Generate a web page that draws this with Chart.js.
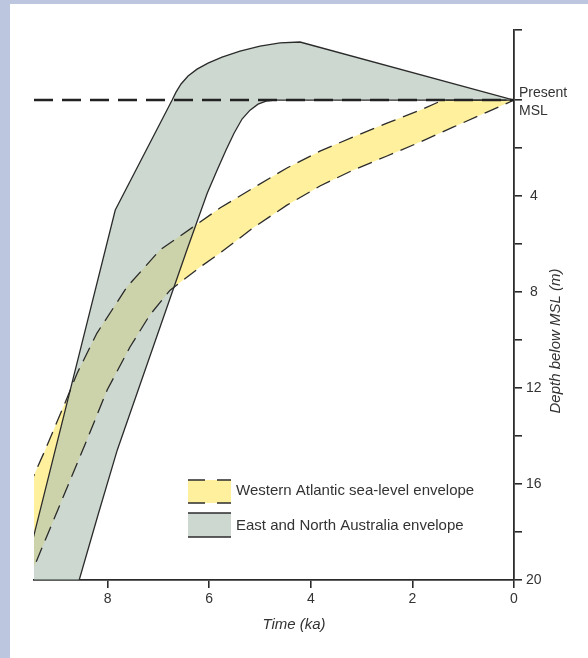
<!DOCTYPE html>
<html>
<head>
<meta charset="utf-8">
<script src="https://cdn.jsdelivr.net/npm/chart.js@4"></script>
<style>
  html, body { margin: 0; padding: 0; }
  body { width: 588px; height: 658px; background: #bcc7df; position: relative; overflow: hidden; }
  #panel { position: absolute; left: 10px; top: 4px; width: 578px; height: 654px; background: #fff; }
</style>
</head>
<body>
<div id="panel"><canvas id="seaLevel" width="578" height="654"></canvas></div>
<script>
// Ages in ka before present, depths in m below present MSL
const ausUpperAge   = [9.92, 7.85, 6.73, 6.654, 6.555, 6.417, 6.24, 6.024, 5.748, 5.394, 5.0, 4.606, 4.213, 0];
const ausUpperDepth = [22.1, 4.58, 0.0, -0.33, -0.67, -1.0, -1.29, -1.54, -1.79, -2.04, -2.25, -2.38, -2.42, 0];
const ausLowerAge   = [9.92, 8.97, 8.56, 8.19, 7.81, 6.44, 6.04, 5.846, 5.669, 5.512, 5.354, 5.197, 5.039, 4.882, 4.705, 0];
const ausLowerDepth = [30, 22.9, 20.0, 17.29, 14.58, 6.25, 3.88, 2.92, 2.08, 1.38, 0.79, 0.42, 0.17, 0.04, 0, 0];

const atlUpperAge   = [9.92, 9.45, 9.23, 8.80, 8.60, 8.21, 7.62, 6.97, 6.32, 5.79, 5.14, 4.47, 3.82, 3.17, 2.50, 1.85, 1.40, 0];
const atlUpperDepth = [17.92, 15.63, 14.58, 12.42, 11.38, 9.71, 7.79, 6.25, 5.29, 4.5, 3.67, 2.83, 2.13, 1.54, 0.96, 0.42, 0, 0];
const atlLowerAge   = [9.92, 9.45, 8.41, 8.01, 7.56, 7.17, 6.77, 6.18, 5.79, 5.14, 4.47, 3.82, 3.17, 2.50, 1.85, 1.20, 0.53, 0];
const atlLowerDepth = [21.9, 19.46, 14.17, 12.08, 10.29, 8.96, 7.92, 6.96, 6.38, 5.33, 4.38, 3.58, 2.92, 2.33, 1.75, 1.13, 0.5, 0];

const mslAge   = [9.45, 0];
const mslDepth = [0, 0];

const timeTicks = [0, 2, 4, 6, 8];
const depthTicks = [0, 2, 4, 6, 8, 10, 12, 14, 16, 18, 20];
const depthLabelled = [4, 8, 12, 16, 20];
const legendLabels = ['Western Atlantic sea-level envelope', 'East and North Australia envelope'];

const ink = '#2b2b2b';
const yellow = '#fef09d';
const greyGreen = 'rgba(170,190,177,0.6)';
const font = "'Liberation Sans', Arial, sans-serif";
const yTop = -2.92;

Chart.defaults.font.family = font;
Chart.defaults.font.size = 14;
Chart.defaults.color = '#333';

const pts = (xs, ys) => xs.map((x, i) => ({ x: x, y: ys[i] }));

// titles, "Present MSL" label and the legend
const annotate = {
  id: 'annotate',
  afterDraw(chart) {
    const ctx = chart.ctx;
    const y = chart.scales.y;
    ctx.save();
    ctx.fillStyle = '#333';
    ctx.font = '14px ' + font;
    ctx.textAlign = 'left';
    ctx.textBaseline = 'alphabetic';
    const y0 = y.getPixelForValue(0);
    ctx.fillText('Present', y.left + 5, y0 - 3);
    ctx.fillText('MSL', y.left + 5, y0 + 15);

    ctx.font = 'italic 15px ' + font;
    ctx.textAlign = 'center';
    ctx.fillText('Time (ka)', 284, 625);
    ctx.save();
    ctx.translate(550, 337);
    ctx.rotate(-Math.PI / 2);
    ctx.fillText('Depth below MSL (m)', 0, 0);
    ctx.restore();

    // legend
    const bx = 178, bw = 43;
    ctx.fillStyle = yellow;
    ctx.fillRect(bx, 476, bw, 23);
    ctx.fillStyle = greyGreen;
    ctx.fillRect(bx, 509, bw, 24);
    ctx.strokeStyle = ink;
    ctx.lineWidth = 1.4;
    ctx.setLineDash([17, 12]);
    [476, 499].forEach(ly => {
      ctx.beginPath(); ctx.moveTo(bx, ly); ctx.lineTo(bx + bw, ly); ctx.stroke();
    });
    ctx.setLineDash([]);
    [509, 533].forEach(ly => {
      ctx.beginPath(); ctx.moveTo(bx, ly); ctx.lineTo(bx + bw, ly); ctx.stroke();
    });
    ctx.fillStyle = '#333';
    ctx.font = '15px ' + font;
    ctx.textAlign = 'left';
    ctx.fillText(legendLabels[0], 226, 491);
    ctx.fillText(legendLabels[1], 226, 526);
    ctx.restore();
  }
};

new Chart(document.getElementById('seaLevel'), {
  type: 'line',
  data: {
    datasets: [
      { label: 'Present MSL', data: pts(mslAge, mslDepth), borderColor: '#222', borderWidth: 2.6, borderDash: [19, 9], fill: false },
      { label: legendLabels[1], data: pts(ausUpperAge, ausUpperDepth), borderColor: ink, borderWidth: 1.3, backgroundColor: greyGreen, fill: '+1' },
      { label: 'ausLower', data: pts(ausLowerAge, ausLowerDepth), borderColor: ink, borderWidth: 1.3, fill: false },
      { label: legendLabels[0], data: pts(atlUpperAge, atlUpperDepth), borderColor: ink, borderWidth: 1.3, borderDash: [15, 8], backgroundColor: yellow, fill: '+1' },
      { label: 'atlLower', data: pts(atlLowerAge, atlLowerDepth), borderColor: ink, borderWidth: 1.3, borderDash: [15, 8], fill: false }
    ]
  },
  options: {
    responsive: false,
    animation: false,
    layout: { padding: { left: 24, top: 26, right: 0, bottom: 0 } },
    elements: { point: { radius: 0 }, line: { tension: 0 } },
    plugins: {
      legend: { display: false },
      tooltip: { enabled: false },
      filler: { drawTime: 'beforeDatasetsDraw' }
    },
    scales: {
      x: {
        type: 'linear', reverse: true, min: 0, max: 9.45, position: 'bottom',
        afterBuildTicks: s => { s.ticks = timeTicks.map(v => ({ value: v })); },
        afterFit: s => { s.height = 78; },
        grid: { drawOnChartArea: false, tickLength: 8, color: ink, lineWidth: 1.6 },
        border: { color: ink, width: 1.8 },
        ticks: { padding: 3, maxRotation: 0, callback: v => String(v) }
      },
      y: {
        type: 'linear', reverse: true, min: yTop, max: 20, position: 'right',
        afterBuildTicks: s => { s.ticks = [yTop].concat(depthTicks).map(v => ({ value: v })); },
        afterFit: s => { s.width = 74; },
        grid: { drawOnChartArea: false, tickLength: 8, color: ink, lineWidth: 1.6 },
        border: { color: ink, width: 1.8 },
        ticks: { padding: 4, crossAlign: 'center', callback: v => depthLabelled.includes(v) ? String(v) : '' }
      }
    }
  },
  plugins: [annotate]
});
</script>
</body>
</html>
